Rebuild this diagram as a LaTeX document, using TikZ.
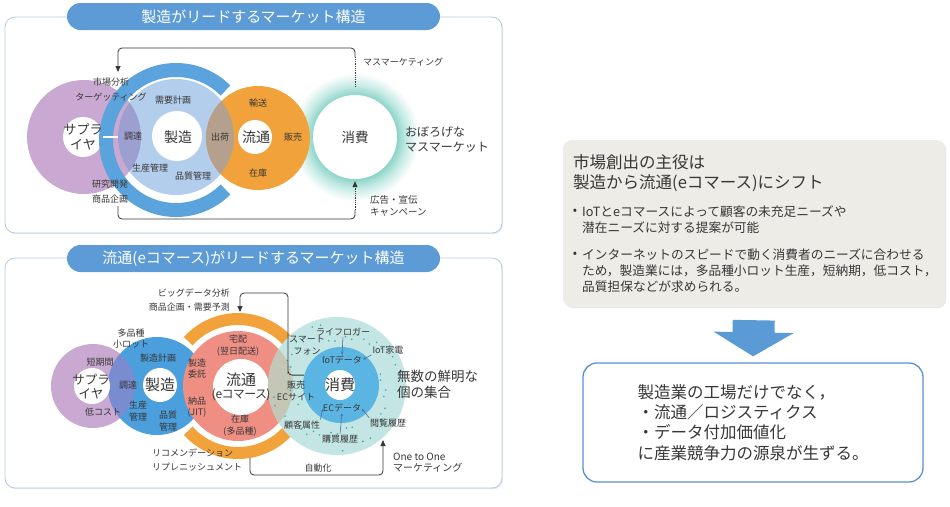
\documentclass[tikz,border=0pt]{standalone}
\usepackage{fontspec}
\setmainfont{Noto Sans CJK JP}
\usepackage{xcolor}
\definecolor{ink}{RGB}{55,55,55}
\definecolor{frame}{RGB}{184,202,226}
\definecolor{pillblue}{RGB}{92,155,213}
\definecolor{ringblue}{RGB}{91,163,221}
\definecolor{lightdisc}{RGB}{179,205,236}
\definecolor{mauve}{RGB}{201,169,209}
\definecolor{lensviolet}{RGB}{157,159,208}
\definecolor{orangeC}{RGB}{242,162,58}
\definecolor{lensbrown}{RGB}{180,160,140}
\definecolor{glowteal}{RGB}{140,212,200}
\definecolor{glowmid}{RGB}{196,234,228}
\definecolor{mfgblue}{RGB}{74,159,220}
\definecolor{lensblue}{RGB}{122,140,208}
\definecolor{salmon}{RGB}{239,143,132}
\definecolor{tealbg}{RGB}{195,229,227}
\definecolor{lensgray}{RGB}{196,198,182}
\definecolor{innerblue}{RGB}{91,181,227}
\definecolor{dotteal}{RGB}{58,168,168}
\definecolor{arrowblue}{RGB}{80,110,160}
\definecolor{boxgray}{RGB}{238,236,231}
\definecolor{resblue}{RGB}{91,143,208}
\definecolor{bigblue}{RGB}{91,155,213}
\usepackage{tikz}
\usetikzlibrary{arrows.meta,shadows}
\newcommand{\fsz}[2]{\fontsize{#1}{#2}\selectfont}
\pgfdeclareradialshading{consglow}{\pgfpoint{0bp}{0bp}}{%
  color(0bp)=(glowteal); color(16.4bp)=(glowteal); color(20bp)=(glowmid);
  color(25bp)=(white); color(50bp)=(white)}

\begin{document}
\begin{tikzpicture}[x=1pt,y=-1pt,
  panel/.style={rectangle,rounded corners=10pt,draw=frame,line width=0.8pt,fill=white,
                drop shadow={shadow xshift=1.2pt,shadow yshift=-1.2pt,opacity=0.18}},
  pill/.style={rectangle,rounded corners=13.5pt,fill=pillblue,text=white,
               minimum width=373pt,minimum height=27pt,font=\fsz{15}{17}},
  disc/.style={circle,inner sep=0pt,draw=none},
  lbl/.style={inner sep=0pt,align=center,text=ink,font=\fsz{9}{11.5}},
  lblw/.style={lbl,font=\fsz{9}{15}},
  hub/.style={inner sep=0pt,align=center,text=ink,font=\fsz{14}{15}},
  loop/.style={draw=ink,line width=0.8pt,rounded corners=4pt},
  looparr/.style={loop,-{Triangle[length=6pt,width=5pt]}},
  tinyarr/.style={draw=arrowblue,line width=0.6pt,-{Stealth[length=3pt,width=2.6pt]},
                  shorten <=1pt,shorten >=1pt},
  sumbox/.style={rectangle,rounded corners=9pt,fill=boxgray,minimum width=382pt,
                 minimum height=167pt,
                 drop shadow={shadow xshift=1.2pt,shadow yshift=-1.2pt,opacity=0.18}},
  resbox/.style={rectangle,rounded corners=14pt,draw=resblue,line width=1.3pt,fill=white,
                 minimum width=340pt,minimum height=119pt,align=left,text=ink,
                 font=\fsz{16.5}{20.3}},
]
  \useasboundingbox (0,0) rectangle (950,506);

  %% ---------- upper panel: manufacturing leads ----------
  \node[panel,minimum width=497pt,minimum height=216pt] (topPanel) at (253.5,125) {};
  \node[pill] (topTitle) at (253.5,16.5) {製造がリードするマーケット構造};

  \coordinate (consC) at (355,137);
  \shade[shading=consglow] (consC) circle[radius=64pt];

  \node[disc,fill=mauve,minimum size=114pt] (supC) at (84,137) {};
  \node[disc,fill=white,minimum size=40pt] (supW) at (83,137) {};

  \coordinate (mfgRC) at (176,140);
  \draw[ringblue,line width=14pt] (mfgRC) ++(45:70pt)
    arc[start angle=45,end angle=315,radius=70pt];

  \node[disc,fill=lightdisc,minimum size=116pt] (mfgD) at (176,137) {};
  \node[disc,fill=orangeC,minimum size=104pt] (rtl) at (258,138) {};
  \begin{scope}
    \clip (mfgD.center) circle[radius=58pt];
    \fill[lensviolet] (supC.center) circle[radius=57pt];
    \fill[lensbrown] (rtl.center) circle[radius=52pt];
  \end{scope}
  \draw[white,line width=2.5pt] (supW.east) -- (mfgD.west);
  \node[disc,fill=white,minimum size=50pt] (mfgW) at (177,136) {};
  \node[disc,fill=white,minimum size=34pt] (rtlW) at (255,137) {};
  \node[disc,fill=white,minimum size=84pt] (cons) at (consC) {};

  \node[lblw] (mkt) at (111,89.5) {市場分析\\ターゲッティング};
  \node[lbl] (demand) at (173,100) {需要計画};
  \node[lbl] (proc) at (133,136) {調達};
  \node[hub] (mfgT) at (178,137) {製造};
  \node[lbl] (ship) at (220,137) {出荷};
  \node[lbl] (prodCtl) at (150,168) {生産管理};
  \node[lbl] (qualCtl) at (193,176) {品質管理};
  \node[lblw] (rnd) at (110,191.5) {研究開発\\商品企画};
  \node[lbl] (trans) at (258,103) {輸送};
  \node[hub] (rtlT) at (256,137) {流通};
  \node[lbl] (sales) at (293,137) {販売};
  \node[lbl] (stock) at (258,173) {在庫};
  \node[hub,font=\fsz{13}{15}] (supT) at (83,137) {サプラ\\イヤ};
  \node[hub,font=\fsz{13.5}{15}] (consT1) at (consC) {消費};
  \node[lbl,anchor=west,align=left,font=\fsz{12}{15}] (vague) at (405,139.5)
    {おぼろげな\\マスマーケット};
  \node[lbl,anchor=west] (massMk) at (363,62) {マスマーケティング};
  \node[lbl,anchor=west,align=left,font=\fsz{9.5}{12.5}] (adv) at (370,206)
    {広告・宣伝\\キャンペーン};

  \coordinate (mmTurn) at (355,57);
  \coordinate (mktArr) at (118,72);
  \coordinate (rdBot) at (118,206);
  \coordinate (adCorner) at (355,219);
  \coordinate (adTurn) at (355,210);
  \draw[ink,line width=0.8pt,densely dotted,shorten <=8pt] (cons.north) -- (mmTurn);
  \draw[looparr] (mmTurn) -- ++(0,-9) -| (mktArr);
  \draw[loop] (rdBot) |- (adCorner) -- (adTurn);
  \draw[ink,line width=0.8pt,densely dotted,-{Triangle[length=6pt,width=5pt]},
        shorten >=2pt] (adTurn) -- (cons.south);

  %% ---------- lower panel: e-commerce leads ----------
  \node[panel,minimum width=497pt,minimum height=230pt] (botPanel) at (253.5,373) {};
  \node[pill] (botTitle) at (253.5,258.5) {流通(eコマース)がリードするマーケット構造};

  \node[disc,fill=mauve,minimum size=84pt] (supC2) at (93,386) {};
  \node[disc,fill=mfgblue,minimum size=98pt] (mfgC2) at (157,386) {};
  \begin{scope}
    \clip (mfgC2.center) circle[radius=49pt];
    \fill[lensblue] (supC2.center) circle[radius=42pt];
  \end{scope}
  \node[disc,fill=white,minimum size=36pt] (supW2) at (92,386) {};
  \node[disc,fill=white,minimum size=34pt] (mfgW2) at (160,385) {};

  \coordinate (rtlC) at (238,386);
  \foreach \a in {42,222}{%
    \draw[orangeC,line width=12pt] (rtlC) ++(\a:67pt)
      arc[start angle=\a,delta angle=96,radius=67pt];}
  \node[disc,fill=salmon,minimum size=110pt] (rtl2) at (rtlC) {};
  \node[disc,fill=white,minimum size=56pt] (rtlW2) at (241,387) {};

  \node[disc,fill=tealbg,minimum size=138pt] (consT) at (337,386) {};
  \begin{scope}
    \clip (consT.center) circle[radius=69pt];
    \fill[lensgray] (rtl2.center) circle[radius=55pt];
  \end{scope}
  \foreach \k in {1,...,46}{%
    \pgfmathsetmacro{\ang}{\k*137.508}
    \pgfmathsetmacro{\rad}{43+mod(\k*11,23)}
    \fill[dotteal] (consT.center) ++(\ang:\rad pt) circle[radius=0.9pt];}
  \node[disc,fill=innerblue,minimum size=76pt] (consB) at (341,385) {};
  \node[disc,fill=white,minimum size=30pt] (consW2) at (340,385) {};

  \node[lbl] (lots) at (131,338.5) {多品種\\小ロット};
  \node[lbl] (short) at (100,362) {短期間};
  \node[hub,font=\fsz{12.5}{14}] (supT2) at (91,387) {サプラ\\イヤ};
  \node[lbl] (lowCost) at (103,412) {低コスト};
  \node[lbl] (proc2) at (128,385) {調達};
  \node[lbl] (mfgPlan) at (158,358) {製造計画};
  \node[hub,font=\fsz{15}{16}] (mfgT2) at (160,385) {製造};
  \node[lbl] (prodCtl2) at (138,411) {生産\\管理};
  \node[lbl] (qualCtl2) at (168,421) {品質\\管理};
  \node[lbl] (consign) at (197,368.5) {製造\\委託};
  \node[lbl] (jit) at (197,407) {納品\\(JIT)};
  \node[lbl] (deliv) at (238,345.5) {宅配\\(翌日配送)};
  \node[hub,font=\fsz{15}{15}] (rtlT2) at (241,380) {流通};
  \node[hub,font=\fsz{12}{14}\addfontfeatures{RawFeature=+palt}] (rtlE2) at (241,395)
    {(eコマース)};
  \node[lbl] (stock2) at (240,425.5) {在庫\\(多品種)};
  \node[lbl] (lifelog) at (343,332) {ライフロガー};
  \node[lbl] (phone) at (307,345.5) {スマート\\フォン};
  \node[lbl] (iotHome) at (388,350) {IoT家電};
  \node[lbl] (iotData) at (342,360) {IoTデータ};
  \node[hub,font=\fsz{15}{16}] (consT2) at (340,385) {消費};
  \node[lbl] (ecData) at (342,408) {ECデータ};
  \node[lbl] (ecSite) at (296,391) {販売\\ECサイト};
  \node[lbl] (custAttr) at (302,425) {顧客属性};
  \node[lbl] (buyHist) at (340,439) {購買履歴};
  \node[lbl] (viewHist) at (388,423) {閲覧履歴};
  \node[lbl,anchor=west,align=left,font=\fsz{13.5}{16}] (vivid) at (397,384)
    {無数の鮮明な\\個の集合};
  \node[lbl,anchor=east,align=right,font=\fsz{9}{14}] (bigData) at (230,300)
    {ビッグデータ分析\\商品企画・需要予測};
  \node[lbl,anchor=west,align=left,font=\fsz{9}{14}] (recom) at (152,460)
    {リコメンデーション\\リプレニッシュメント};
  \node[lbl] (auto) at (318,468) {自動化};
  \node[lbl,anchor=west,align=left,font=\fsz{10}{11.5}] (oneOne) at (393,462.5)
    {One to One\\マーケティング};

  \draw[tinyarr] (lifelog.south) -- (iotData.north);
  \draw[tinyarr] (phone.south east) -- (iotData.west);
  \draw[tinyarr] (iotHome.south west) -- (iotData.east);
  \draw[tinyarr] (custAttr.north east) -- (ecData.west);
  \draw[tinyarr] (buyHist.north) -- (ecData.south);
  \draw[tinyarr] (viewHist.north west) -- (ecData.east);

  \coordinate (bdTurn) at (288,293);
  \coordinate (bdArr) at (240,312);
  \coordinate (recTop) at (250,458);
  \coordinate (ooArr) at (383,440);
  \draw[looparr] (consB.165) -| (bdTurn) -| (bdArr);
  \draw[looparr] (recTop) -- ++(0,17) -| (ooArr);

  %% ---------- right column ----------
  \node[sumbox] (summary) at (754,223.5) {};
  \node[anchor=west,inner sep=0pt,text=ink,font=\fsz{16.5}{20}] (sumHead1) at (573,162)
    {市場創出の主役は};
  \node[anchor=west,inner sep=0pt,text=ink,font=\fsz{16.5}{20}] (sumHead2) at (573,183)
    {製造から流通(eコマース)にシフト};
  \node[inner sep=0pt,text=ink,font=\fsz{12.7}{16}] (dot1) at (575,212) {•};
  \node[anchor=west,align=left,inner sep=0pt,text=ink,font=\fsz{12.7}{16}] (bul1)
    at (582,220) {IoTとeコマースによって顧客の未充足ニーズや\\潜在ニーズに対する提案が可能};
  \node[inner sep=0pt,text=ink,font=\fsz{12.7}{16}] (dot2) at (575,255) {•};
  \node[anchor=west,align=left,inner sep=0pt,text=ink,font=\fsz{12.7}{16}] (bul2)
    at (582,271) {インターネットのスピードで動く消費者のニーズに合わせる\\
    ため，製造業には，多品種小ロット生産，短納期，低コスト，\\品質担保などが求められる。};

  \node[resbox] (result) at (753,422.5)
    {製造業の工場だけでなく，\\・流通／ロジスティクス\\・データ付加価値化\\に産業競争力の源泉が生ずる。};

  \draw[bigblue,line width=42pt,-{Triangle[width=79pt,length=24pt]},
        shorten <=13pt,shorten >=6pt] (summary.south) -- (result.north);
\end{tikzpicture}
\end{document}
